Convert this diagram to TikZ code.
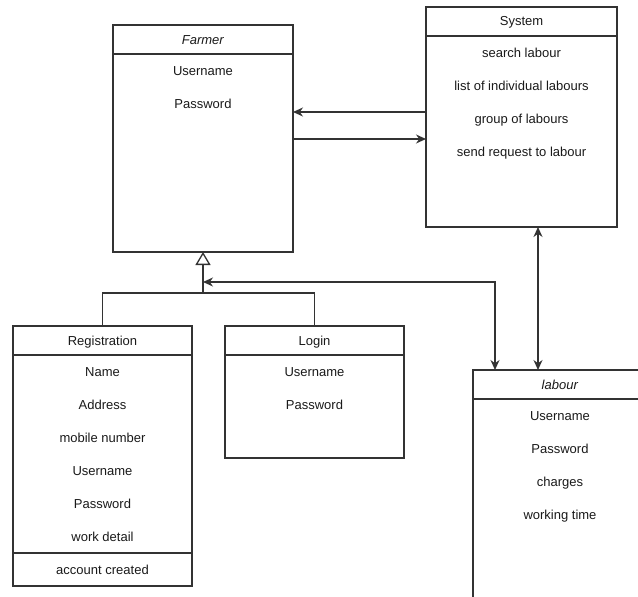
\documentclass[tikz,border=0pt]{standalone}
\usepackage{fontspec}
\setmainfont{Liberation Sans}
\usetikzlibrary{positioning,arrows.meta}
\definecolor{umlline}{HTML}{333333}
\definecolor{umltext}{HTML}{1A1A1A}
\tikzset{
    class-head/.style = {draw=umlline, line width=1.3pt, rectangle, inner sep=0pt, outer sep=0pt, anchor=north west, minimum height=29pt, text height=10pt, text depth=1pt, text=umltext, font=\fontsize{13}{15}\selectfont},
    class-body/.style = {draw=umlline, line width=1.3pt, rectangle, inner sep=0pt, outer sep=0pt},
    attr/.style = {inner sep=0pt, outer sep=0pt, minimum height=33pt, text height=10pt, text depth=1pt, text=umltext, font=\fontsize{13}{15}\selectfont},
    link/.style = {draw=umlline, line width=1.3pt},
    assoc/.style = {link, -{Stealth[length=10pt,width=9pt]}},
    both-assoc/.style = {link, {Stealth[length=10pt,width=9pt]}-{Stealth[length=10pt,width=9pt]}},
    generalize/.style = {link, -{Triangle[open,length=13pt,width=15pt,fill=white]}},
}

\begin{document}
\begin{tikzpicture}[x=1pt, y=-1pt]
\useasboundingbox (0,0) rectangle (638,597);
\fill[white] (0,0) rectangle (638,597);
\clip (0,0) rectangle (638,597);

% Farmer
\node[class-head, minimum width=180pt] (farmer-head) at (113,25) {\textit{Farmer}};
\node[class-body, minimum width=180pt, minimum height=198pt, below=0pt of farmer-head] (farmer-body) {};
\node[attr, below=0pt of farmer-head] (farmer-user) {Username};
\node[attr, below=0pt of farmer-user] (farmer-pass) {Password};

% System
\node[class-head, minimum width=191pt] (system-head) at (426,7) {System};
\node[class-body, minimum width=191pt, minimum height=191pt, below=0pt of system-head] (system-body) {};
\node[attr, below=0pt of system-head] (system-search) {search labour};
\node[attr, below=0pt of system-search] (system-list) {list of individual labours};
\node[attr, below=0pt of system-list] (system-group) {group of labours};
\node[attr, below=0pt of system-group] (system-send) {send request to labour};

% Registration
\node[class-head, minimum width=179pt] (reg-head) at (13,326) {Registration};
\node[class-body, minimum width=179pt, minimum height=198pt, below=0pt of reg-head] (reg-body) {};
\node[class-body, minimum width=179pt, minimum height=39pt, below=0pt of reg-body, attr] (reg-foot) {account created};
\node[attr, below=0pt of reg-head] (reg-name) {Name};
\node[attr, below=0pt of reg-name] (reg-address) {Address};
\node[attr, below=0pt of reg-address] (reg-mobile) {mobile number};
\node[attr, below=0pt of reg-mobile] (reg-user) {Username};
\node[attr, below=0pt of reg-user] (reg-pass) {Password};
\node[attr, below=0pt of reg-pass] (reg-work) {work detail};

% Login
\node[class-head, minimum width=179pt] (login-head) at (225,326) {Login};
\node[class-body, minimum width=179pt, minimum height=103pt, below=0pt of login-head] (login-body) {};
\node[attr, below=0pt of login-head] (login-user) {Username};
\node[attr, below=0pt of login-user] (login-pass) {Password};

% labour
\node[class-head, minimum width=174pt] (labour-head) at (473,370) {\textit{labour}};
\node[class-body, minimum width=174pt, minimum height=202pt, below=0pt of labour-head] (labour-body) {};
\node[attr, below=0pt of labour-head] (labour-user) {Username};
\node[attr, below=0pt of labour-user] (labour-pass) {Password};
\node[attr, below=0pt of labour-pass] (labour-charges) {charges};
\node[attr, below=0pt of labour-charges] (labour-time) {working time};

% connectors
\draw[assoc] ([yshift=-76pt]system-body.north west) coordinate (sys-out) -- (sys-out -| farmer-body.east);
\draw[assoc] ([yshift=-85pt]farmer-body.north east) coordinate (farmer-out) -- (farmer-out -| system-body.west);
\coordinate (gen-join) at ([yshift=-41pt]farmer-body.south);
\coordinate (labour-join) at ([yshift=-30pt]farmer-body.south);
\draw[link] (reg-head.north) |- (gen-join) -| (login-head.north);
\draw[generalize] (gen-join) -- (farmer-body.south);
\draw[both-assoc] (labour-join) -| ([xshift=22pt]labour-head.north west);
\draw[both-assoc] ([xshift=16.5pt]system-body.south) coordinate (sys-down) -- (sys-down |- labour-head.north);
\end{tikzpicture}
\end{document}
